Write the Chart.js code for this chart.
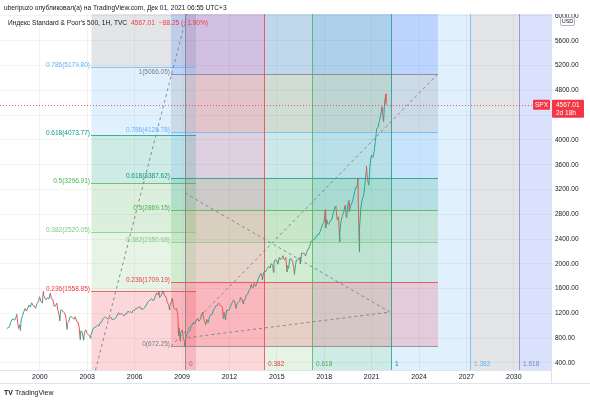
<!DOCTYPE html>
<html><head><meta charset="utf-8">
<script src="https://cdn.jsdelivr.net/npm/chart.js@4/dist/chart.umd.min.js"></script>
<style>html,body{margin:0;padding:0;background:#fff;overflow:hidden}#wrap{width:590px;height:402px;position:relative}</style>
</head><body><div id="wrap"><canvas id="c" width="590" height="402"></canvas></div>
<script>
const FONT = '"Liberation Sans", Arial, sans-serif';
const TXT = '#131722';

// Axis ticks
const xTickYears = [2000, 2003, 2006, 2009, 2012, 2015, 2018, 2021, 2024, 2027, 2030];
const yTickValues = [400, 800, 1200, 1600, 2000, 2400, 2800, 3200, 3600, 4000, 4400, 4800, 5200, 5600, 6000];

// S&P 500 monthly closes, starting Nov 1997
const spxStartYear = 1997, spxStartMonth = 11;
const spxMonthClose = [
  955, 970,
  980, 1049, 1101, 1111, 1090, 1133, 1120, 957, 1017, 1098, 1163, 1229,
  1279, 1238, 1286, 1335, 1301, 1372, 1328, 1320, 1282, 1362, 1388, 1469,
  1394, 1366, 1498, 1452, 1420, 1454, 1430, 1517, 1436, 1429, 1315, 1320,
  1366, 1240, 1160, 1249, 1256, 1224, 1211, 1134, 1040, 1060, 1139, 1148,
  1130, 1106, 1147, 1076, 1067, 990, 912, 916, 815, 885, 936, 880,
  856, 841, 848, 917, 964, 975, 990, 1008, 996, 1051, 1058, 1112,
  1131, 1145, 1126, 1107, 1121, 1141, 1102, 1104, 1115, 1130, 1174, 1212,
  1181, 1204, 1181, 1157, 1192, 1191, 1234, 1220, 1229, 1207, 1249, 1248,
  1280, 1281, 1295, 1311, 1270, 1270, 1277, 1304, 1336, 1378, 1401, 1418,
  1438, 1407, 1421, 1482, 1531, 1503, 1455, 1474, 1527, 1549, 1481, 1468,
  1379, 1331, 1323, 1386, 1400, 1280, 1267, 1283, 1165, 969, 896, 903,
  826, 735, 798, 873, 919, 919, 987, 1021, 1057, 1036, 1096, 1115,
  1074, 1104, 1169, 1187, 1089, 1031, 1102, 1049, 1141, 1183, 1181, 1258,
  1286, 1327, 1326, 1364, 1345, 1321, 1292, 1219, 1131, 1253, 1247, 1258,
  1312, 1366, 1408, 1398, 1310, 1362, 1379, 1407, 1441, 1412, 1416, 1426,
  1498, 1515, 1569, 1598, 1631, 1606, 1686, 1633, 1682, 1757, 1806, 1848,
  1783, 1859, 1872, 1884, 1924, 1960, 1931, 2003, 1972, 2018, 2068, 2059,
  1995, 2105, 2068, 2086, 2107, 2063, 2104, 1972, 1920, 2079, 2080, 2044,
  1940, 1932, 2060, 2065, 2097, 2099, 2174, 2171, 2168, 2126, 2199, 2239,
  2279, 2364, 2363, 2384, 2412, 2423, 2470, 2472, 2519, 2575, 2648, 2674,
  2824, 2714, 2641, 2648, 2705, 2718, 2816, 2902, 2914, 2712, 2760, 2507,
  2704, 2784, 2834, 2946, 2752, 2942, 2980, 2926, 2977, 3038, 3141, 3231,
  3226, 2954, 2585, 2912, 3044, 3100, 3271, 3500, 3363, 3270, 3622, 3756,
  3714, 3811, 3973, 4181, 4204, 4298, 4395, 4523, 4308, 4605
];
// intramonth swing highs / lows
const spxSwingDates = ['1998-07-17','1998-10-08','2000-03-24','2000-09-01','2001-04-04','2001-09-21','2002-07-23','2002-10-09','2003-03-11','2007-07-16','2007-10-09','2008-03-17','2008-05-19','2008-10-10','2008-11-20','2009-01-06','2009-03-09','2010-04-23','2010-07-02','2011-04-29','2011-08-08','2011-10-03','2012-04-02','2012-06-01','2012-09-14','2012-11-15','2013-05-21','2014-02-03','2014-10-15','2015-05-21','2015-08-25','2016-02-11','2016-06-27','2018-01-26','2018-02-08','2018-09-20','2018-12-24','2019-05-03','2019-06-03','2019-07-26','2019-08-05','2020-02-19','2020-03-23','2020-09-02','2020-10-30','2021-09-02','2021-10-04','2021-11-18','2021-11-22','2021-11-26','2021-12-01'];
const spxSwingValues = [1187, 923, 1553, 1530, 1081, 945, 776, 769, 800, 1556, 1565, 1257, 1440, 840, 752, 934, 667, 1217, 1022, 1364, 1119, 1099, 1419, 1278, 1465, 1353, 1669, 1741, 1862, 2131, 1867, 1829, 2000, 2873, 2581, 2931, 2351, 2945, 2744, 3025, 2844, 3386, 2192, 3580, 3270, 4537, 4300, 4704, 4743, 4595, 4567];
const lastPrice = 4567.01;

// Fib retracement #1
const fib1Levels = [0, 0.236, 0.382, 0.5, 0.618, 0.786, 1];
const fib1Values = [5.13, 1558.85, 2520.05, 3296.91, 4073.77, 5179.80, 6588.69];
const fib1Span = [2003.27, 2009.88];
// Fib retracement #2
const fib2Levels = [0, 0.236, 0.382, 0.5, 0.618, 0.786, 1, 1.618];
const fib2Values = [672.25, 1709.19, 2350.68, 2869.15, 3387.62, 4125.78, 5066.05, 7781.2];
const fib2Span = [2008.30, 2025.20];
const fibColors = ['#787B86', '#F23645', '#81C784', '#4CAF50', '#089981', '#64B5F6', '#787B86', '#2962FF'];

// Trend-based Fib time
const tzLevels = ['0', '0.382', '0.618', '1', '1.382', '1.618', '2'];
const tzYears = [2009.19, 2014.19, 2017.23, 2022.22, 2027.22, 2030.32, 2035.25];
const tzLineColors = ['#787B86', '#F23645', '#4CAF50', '#089981', '#64B5F6', '#7E87C4', '#2962FF'];
const tzBandColors = ['#F23645', '#81C784', '#089981', '#64B5F6', '#787B86', '#3F6BF5'];
const tzPointYears = [2009.19, 2022.16, 2009.19];
const tzPointValues = [3142, 1222, 803];

function decYear(s) {
  const [y, m, d] = s.split('-').map(Number);
  const a = Date.UTC(y, 0, 1), b = Date.UTC(y + 1, 0, 1);
  return y + (Date.UTC(y, m - 1, d) - a) / (b - a);
}
const spxPoints = [];
spxMonthClose.forEach((v, i) => {
  const mIdx = spxStartMonth - 1 + i;
  const y = spxStartYear + Math.floor(mIdx / 12), m = (mIdx % 12) + 1;
  spxPoints.push({ x: decYear(`${y}-${String(m).padStart(2,'0')}-27`), y: v });
});
spxSwingDates.forEach((d, i) => spxPoints.push({ x: decYear(d), y: spxSwingValues[i] }));
spxPoints.sort((a, b) => a.x - b.x);

function hexA(hex, a) {
  const n = parseInt(hex.slice(1), 16);
  return `rgba(${(n >> 16) & 255},${(n >> 8) & 255},${n & 255},${a})`;
}
const FILL_A = 0.2;
const LINE_A = 0.75;

const drawPlugin = {
  id: 'tvDrawings',
  beforeDatasetsDraw(chart) {
    const { ctx, chartArea: a, scales: { x, y } } = chart;
    ctx.save();
    ctx.beginPath(); ctx.rect(a.left, a.top, a.right - a.left, a.bottom - a.top); ctx.clip();
    for (let i = 0; i < tzYears.length - 1; i++) {
      const x0 = x.getPixelForValue(tzYears[i]), x1 = x.getPixelForValue(tzYears[i + 1]);
      ctx.fillStyle = hexA(tzBandColors[i], FILL_A);
      ctx.fillRect(x0, a.top, x1 - x0, a.bottom - a.top);
    }
    const fibFill = (vals, span, alphas) => {
      const x0 = x.getPixelForValue(span[0]), x1 = x.getPixelForValue(span[1]);
      for (let i = 0; i < vals.length - 1; i++) {
        const y0 = y.getPixelForValue(vals[i]), y1 = y.getPixelForValue(vals[i + 1]);
        ctx.fillStyle = hexA(fibColors[i + 1], FILL_A);
        ctx.fillRect(x0, y1, x1 - x0, y0 - y1);
      }
    };
    fibFill(fib1Values, fib1Span);
    fibFill(fib2Values, fib2Span);
    ctx.restore();
  },
  afterDatasetsDraw(chart) {
    const { ctx, chartArea: a, scales: { x, y } } = chart;
    ctx.save();
    ctx.beginPath(); ctx.rect(a.left, a.top, a.right - a.left, a.bottom - a.top); ctx.clip();
    ctx.lineWidth = 1;
    const fibLines = (levels, vals, span) => {
      const x0 = Math.round(x.getPixelForValue(span[0])), x1 = Math.round(x.getPixelForValue(span[1]));
      ctx.font = `6.5px ${FONT}`;
      ctx.textAlign = 'right'; ctx.textBaseline = 'bottom';
      for (let i = 0; i < 7; i++) {
        const yy = Math.round(y.getPixelForValue(vals[i])) + 0.5;
        ctx.strokeStyle = hexA(fibColors[i], LINE_A);
        ctx.beginPath(); ctx.moveTo(x0, yy); ctx.lineTo(x1, yy); ctx.stroke();
        ctx.fillStyle = fibColors[i];
        ctx.fillText(`${levels[i]}(${vals[i].toFixed(2)})`, x0 - 1, yy + 1);
      }
      ctx.setLineDash([3, 3]);
      ctx.strokeStyle = 'rgba(120,123,134,0.85)';
      ctx.beginPath();
      ctx.moveTo(x0, y.getPixelForValue(vals[0]));
      ctx.lineTo(x1, y.getPixelForValue(vals[6]));
      ctx.stroke();
      ctx.setLineDash([]);
    };
    fibLines(fib1Levels, fib1Values, fib1Span);
    fibLines(fib2Levels, fib2Values, fib2Span);
    ctx.font = `6.5px ${FONT}`; ctx.textAlign = 'left'; ctx.textBaseline = 'middle';
    for (let i = 0; i < tzYears.length; i++) {
      const xx = Math.round(x.getPixelForValue(tzYears[i])) + 0.5;
      ctx.strokeStyle = hexA(tzLineColors[i], LINE_A);
      ctx.beginPath(); ctx.moveTo(xx, a.top); ctx.lineTo(xx, a.bottom); ctx.stroke();
      ctx.fillStyle = tzLineColors[i];
      ctx.fillText(tzLevels[i], xx + 3.5, a.bottom - 6);
    }
    ctx.setLineDash([3, 3]);
    ctx.strokeStyle = 'rgba(120,123,134,0.85)';
    ctx.beginPath();
    ctx.moveTo(x.getPixelForValue(tzPointYears[0]), y.getPixelForValue(tzPointValues[0]));
    ctx.lineTo(x.getPixelForValue(tzPointYears[1]), y.getPixelForValue(tzPointValues[1]));
    ctx.lineTo(x.getPixelForValue(tzPointYears[2]), y.getPixelForValue(tzPointValues[2]));
    ctx.stroke();
    const py = Math.round(y.getPixelForValue(lastPrice)) + 0.5;
    ctx.setLineDash([1, 2]);
    ctx.strokeStyle = 'rgba(242,54,69,0.8)';
    ctx.beginPath(); ctx.moveTo(a.left, py); ctx.lineTo(a.right, py); ctx.stroke();
    ctx.setLineDash([]);
    ctx.restore();
  },
  afterDraw(chart) {
    const { ctx, chartArea: a, scales: { x, y } } = chart;
    const W = chart.width;
    ctx.save();
    ctx.fillStyle = '#fff';
    ctx.fillRect(a.right + 1, 0, W - a.right, a.top);
    ctx.strokeStyle = '#e0e3eb'; ctx.lineWidth = 1;
    ctx.beginPath(); ctx.moveTo(0, 383.5); ctx.lineTo(W, 383.5); ctx.stroke();
    ctx.beginPath(); ctx.moveTo(a.right + 0.5, a.bottom); ctx.lineTo(a.right + 0.5, 383.5); ctx.stroke();
    ctx.fillStyle = '#fff'; ctx.strokeStyle = '#b2b5be';
    ctx.beginPath(); ctx.roundRect(560.5, 17.5, 14, 8, 1.5); ctx.fill(); ctx.stroke();
    ctx.fillStyle = TXT; ctx.font = `5.5px ${FONT}`; ctx.textAlign = 'center'; ctx.textBaseline = 'middle';
    ctx.fillText('USD', 567.5, 21.8);
    const py = y.getPixelForValue(lastPrice);
    ctx.fillStyle = '#F23645';
    ctx.beginPath(); ctx.roundRect(533, py - 5, 17, 10, 1); ctx.fill();
    ctx.beginPath(); ctx.roundRect(a.right + 1, py - 5, 32, 18, 1); ctx.fill();
    ctx.fillStyle = '#fff'; ctx.font = `6.5px ${FONT}`; ctx.textAlign = 'center';
    ctx.fillText('SPX', 541.5, py + 0.3);
    ctx.textAlign = 'left';
    ctx.fillText(lastPrice.toFixed(2), a.right + 5, py + 0.3);
    ctx.fillText('2d 18h', a.right + 5, py + 8);
    ctx.textBaseline = 'middle';
    ctx.font = `6.6px ${FONT}`; ctx.fillStyle = TXT;
    ctx.fillText('uberipuzo опубликовал(а) на TradingView.com, Дек 01, 2021 06:55 UTC+3', 4, 8.5);
    let tx = 8;
    const t1 = "Индекс Standard & Poor's 500, 1H, TVC";
    ctx.fillText(t1, tx, 23); tx += ctx.measureText(t1).width + 4;
    ctx.fillStyle = '#F23645';
    ctx.fillText('4567.01', tx, 23); tx += ctx.measureText('4567.01').width + 4;
    ctx.fillText('\u221288.25 (\u22121.90%)', tx, 23);
    ctx.fillStyle = TXT;
    ctx.font = `bold 7px ${FONT}`;
    ctx.fillText('TV', 4, 393);
    ctx.font = `7px ${FONT}`;
    ctx.fillText('TradingView', 15, 393);
    ctx.restore();
  }
};

new Chart(document.getElementById('c'), {
  type: 'line',
  data: {
    datasets: [{
      data: spxPoints,
      borderWidth: 1,
      pointRadius: 0,
      tension: 0,
      borderColor: '#26A69A',
      segment: { borderColor: c => (c.p1.parsed.y < c.p0.parsed.y ? '#EF5350' : '#26A69A') }
    }]
  },
  options: {
    responsive: false,
    animation: false,
    events: [],
    layout: { padding: { top: 14, left: 0, right: 0, bottom: 19 } },
    plugins: { legend: { display: false }, tooltip: { enabled: false } },
    scales: {
      x: {
        type: 'linear', min: 1997.48, max: 2032.35,
        afterBuildTicks: s => { s.ticks = xTickYears.map(v => ({ value: v })); },
        afterFit: s => { s.height = 13; },
        grid: { color: 'rgba(42,46,57,0.06)', drawTicks: false },
        border: { display: true, color: '#e0e3eb' },
        ticks: { autoSkip: false, maxRotation: 0, padding: 3, color: TXT, font: { family: FONT, size: 7 }, callback: v => String(v) }
      },
      y: {
        type: 'linear', position: 'right', min: 287, max: 6032,
        afterBuildTicks: s => { s.ticks = yTickValues.map(v => ({ value: v })); },
        afterFit: s => { s.width = 39; },
        grid: { color: 'rgba(42,46,57,0.06)', drawTicks: false },
        border: { display: true, color: '#e0e3eb' },
        ticks: { padding: 4, color: TXT, font: { family: FONT, size: 6.5 }, callback: v => v.toFixed(2) }
      }
    }
  },
  plugins: [drawPlugin]
});
</script></body></html>
